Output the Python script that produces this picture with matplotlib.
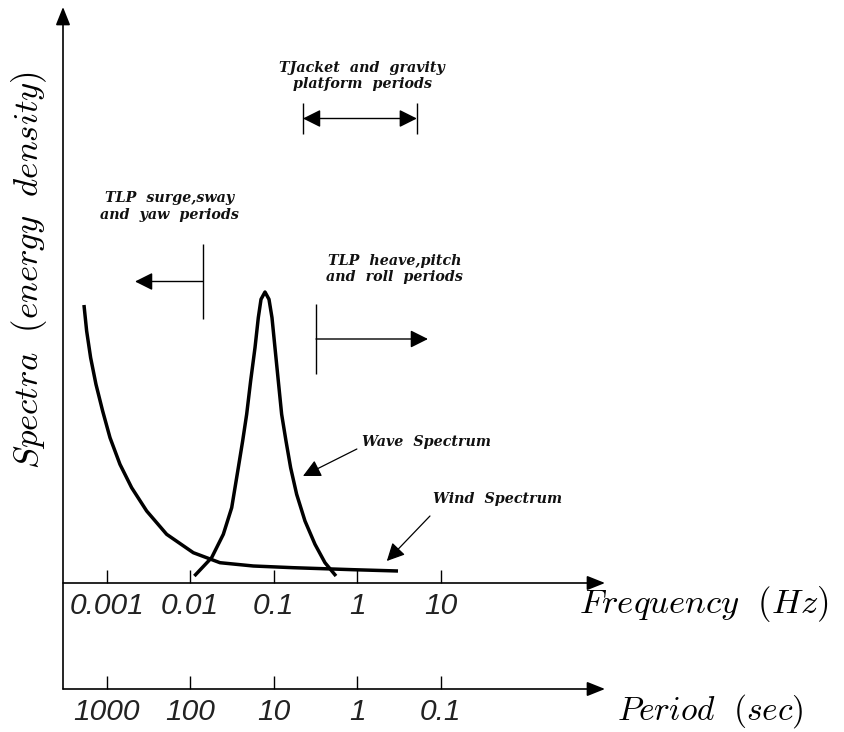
import numpy as np
import matplotlib
matplotlib.use("Agg")
import matplotlib.pyplot as plt

plt.rcParams['mathtext.fontset'] = 'cm'

# ---- data (frequency in Hz, spectral density in arbitrary units) ----
wind_freq = [5.36e-4, 5.77e-4, 6.44e-4, 7.46e-4, 8.97e-4, 1.099e-3, 1.446e-3,
             1.996e-3, 3.02e-3, 5.24e-3, 0.01093, 0.0228, 0.0572, 0.1722,
             0.901, 3.09]
wind_spec = [2.78, 2.52, 2.253, 1.987, 1.72, 1.453, 1.187, 0.953, 0.72, 0.487,
             0.303, 0.203, 0.17, 0.153, 0.133, 0.12]

wave_freq = [0.01125, 0.01811, 0.0250, 0.0315, 0.0378, 0.0426, 0.0476, 0.0531,
             0.0599, 0.0656, 0.0707, 0.0789, 0.0881, 0.0957, 0.1039, 0.1139,
             0.1249, 0.1408, 0.160, 0.1889, 0.2377, 0.3132, 0.4126, 0.5587]
wave_spec = [0.07, 0.253, 0.487, 0.753, 1.153, 1.42, 1.687, 2.02, 2.353, 2.653,
             2.837, 2.91, 2.837, 2.653, 2.353, 2.02, 1.687, 1.42, 1.153, 0.887,
             0.62, 0.387, 0.203, 0.07]

freq_ticks = [0.001, 0.01, 0.1, 1, 10]
freq_labels = ['0.001', '0.01', '0.1', '1', '10']
period_labels = ['1000', '100', '10', '1', '0.1']

# period ranges (Hz)
surge_edge, surge_arrow_end, surge_span = 0.01426, 0.00219, (2.64, 3.39)
heave_edge, heave_arrow_end, heave_span = 0.322, 7.06, (2.09, 2.79)
jacket_range, jacket_span = (0.225, 5.2), (4.49, 4.80)

W, H = 844, 732
fig = plt.figure(figsize=(W / 100, H / 100), dpi=100)

def fx(px):
    return px / W

def fy(py):
    return 1 - py / H

x_left, x_right = 63, 605
y_freq, y_top, y_period = 583, 7, 689

ax = fig.add_axes([fx(x_left), fy(y_freq), fx(x_right) - fx(x_left), fy(y_top) - fy(y_freq)])
ax.set_xscale('log')
xlim = (10 ** -3.522, 10 ** 2.969)
ax.set_xlim(*xlim)
ax.set_ylim(0, 5.76)
for s in ax.spines.values():
    s.set_visible(False)
ax.patch.set_visible(False)

tick_font = dict(family='Liberation Sans', style='italic', size=21.5, color='#222222')

# period axis
axp = fig.add_axes([fx(x_left), fy(y_period), fx(x_right) - fx(x_left), 0.01])
axp.set_xscale('log')
axp.set_xlim(*xlim)
for s in axp.spines.values():
    s.set_visible(False)
axp.patch.set_visible(False)

for a, labels in ((ax, freq_labels), (axp, period_labels)):
    a.set_xticks(freq_ticks)
    a.set_xticklabels([])
    a.minorticks_off()
    a.tick_params(axis='x', direction='in', length=9.5, width=1.0, color='black')
    a.set_yticks([])
    for f, lab in zip(freq_ticks, labels):
        a.annotate(lab, xy=(f, 0), xycoords=('data', 'axes fraction'),
                   xytext=(0, -6.5), textcoords='offset points',
                   ha='center', va='top', annotation_clip=False, **tick_font)

head = '-|>,head_length=0.55,head_width=0.22'
axis_kw = dict(arrowstyle=head, color='black', lw=1.2, mutation_scale=20,
               shrinkA=0, shrinkB=0)
# frequency axis
ax.annotate('', xy=(1, 0), xytext=(0, 0), xycoords='axes fraction',
            arrowprops=axis_kw, annotation_clip=False)
# period axis
axp.annotate('', xy=(1, 0), xytext=(0, 0), xycoords='axes fraction',
             arrowprops=axis_kw, annotation_clip=False)
# vertical axis
ybot = (fy(y_period) - fy(y_freq)) / (fy(y_top) - fy(y_freq))
ax.annotate('', xy=(0, 1), xytext=(0, ybot), xycoords='axes fraction',
            arrowprops=axis_kw, annotation_clip=False)

# spectra
line_kw = dict(color='black', lw=2.5, solid_capstyle='butt', solid_joinstyle='round',
               clip_on=False)
ax.plot(wind_freq, wind_spec, **line_kw)
ax.plot(wave_freq, wave_spec, **line_kw)

small_head = '-|>,head_length=0.6,head_width=0.3'
rng_kw = dict(arrowstyle=small_head, color='black', lw=1.0, mutation_scale=18,
              shrinkA=0, shrinkB=0)

# TLP surge
ax.vlines(surge_edge, *surge_span, color='black', lw=1.0)
ax.annotate('', xy=(surge_arrow_end, np.mean(surge_span)),
            xytext=(surge_edge, np.mean(surge_span)), arrowprops=rng_kw)
# TLP heave
ax.vlines(heave_edge, *heave_span, color='black', lw=1.0)
ax.annotate('', xy=(heave_arrow_end, np.mean(heave_span)),
            xytext=(heave_edge, np.mean(heave_span)), arrowprops=rng_kw)
# Jacket
ax.vlines(jacket_range, *jacket_span, color='black', lw=1.0)
ax.annotate('', xy=(jacket_range[1], np.mean(jacket_span)),
            xytext=(jacket_range[0], np.mean(jacket_span)),
            arrowprops=dict(rng_kw, arrowstyle='<|-|>,head_length=0.6,head_width=0.3'))

ann = dict(family='DejaVu Serif', style='italic', weight='bold', size=10.3,
           color='#111111', ha='center', va='center', linespacing=1.2)
ax.text(1.15, 5.07, 'TJacket  and  gravity\nplatform  periods', **ann)
ax.text(0.00561, 3.765, 'TLP  surge,sway\nand  yaw  periods', **ann)
ax.text(2.83, 3.14, 'TLP  heave,pitch\nand  roll  periods', **ann)
ax.text(1.15, 1.41, 'Wave  Spectrum', **dict(ann, ha='left'))
ax.text(8.13, 0.84, 'Wind  Spectrum', **dict(ann, ha='left'))

ptr_kw = dict(arrowstyle=small_head, color='black', lw=0.9, mutation_scale=18,
              shrinkA=0, shrinkB=0)
ax.annotate('', xy=(0.225, 1.07), xytext=(0.994, 1.34), arrowprops=ptr_kw)
ax.annotate('', xy=(2.27, 0.22), xytext=(7.46, 0.67), arrowprops=ptr_kw)

# axis titles
fig.text(fx(704), fy(613), r'$Frequency\ \ (Hz)$', size=25, ha='center', va='baseline')
fig.text(fx(710), fy(720), r'$Period\ \ (sec)$', size=24, ha='center', va='baseline')
fig.text(fx(29), fy(270), r'$Spectra\ \ (energy\ \ density)$', size=25,
         ha='center', va='center', rotation=90)

fig.savefig('out.png', dpi=100)
